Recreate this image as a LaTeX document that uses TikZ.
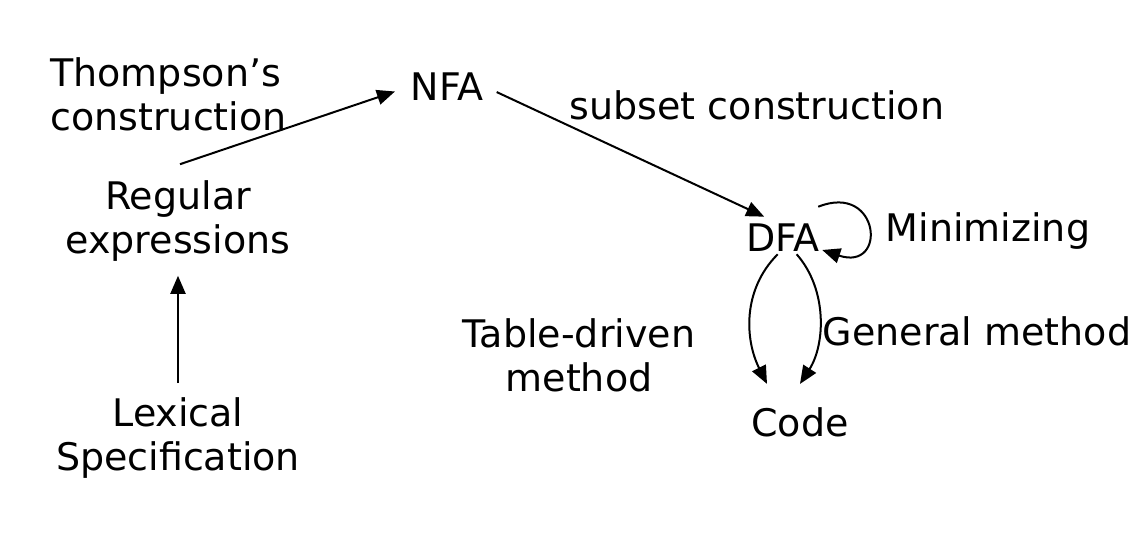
\documentclass[tikz,border=0pt]{standalone}
\usepackage{fontspec}
\setmainfont{DejaVu Sans}
\usetikzlibrary{arrows.meta,calc}
\tikzset{
  lbl/.style={inner sep=1pt, align=center, font=\fontsize{19}{22}\selectfont},
  arr/.style={line width=1pt, -{Triangle[length=9pt,width=7.5pt]}}
}
\begin{document}
\begin{tikzpicture}[x=0.5pt,y=-0.5pt]
  \useasboundingbox (0,0) rectangle (1145,535);
  \node[lbl] (lex) at (178,438) {Lexical\\Specification};
  \node[lbl] (regex) at (178,221) {Regular\\expressions};
  \node[lbl,align=left,anchor=west] (thompson) at (48,94) {Thompson’s\\construction};
  \node[lbl] (nfa) at (447,87) {NFA};
  \node[lbl] (subset) at (757,105) {subset construction};
  \node[lbl] (dfa) at (783,238) {DFA};
  \node[lbl] (minim) at (988,231) {Minimizing};
  \node[lbl] (table) at (579,355) {Table-driven\\method};
  \node[lbl] (general) at (977,331) {General method};
  \node[lbl] (code) at (800,422) {Code};
  \draw[arr,shorten <=6pt,shorten >=6pt] (lex.north) -- (regex.south);
  \draw[arr,shorten >=7pt] ($(regex.north)+(2,-14)$) -- (nfa.west);
  \draw[arr,shorten <=6pt,shorten >=6pt] (nfa.east) -- (dfa.116);
  \draw[arr] ($(dfa.north east)+(-4,-15)$) .. controls (880,182) and (888,272) .. (dfa.-17);
  \draw[arr] (dfa.-108) .. controls (742,290) and (745,340) .. ($(code.north)+(-33,-21)$);
  \draw[arr] (dfa.-50) .. controls (828,290) and (825,345) .. ($(code.north)+(0,-21)$);
\end{tikzpicture}
\end{document}
